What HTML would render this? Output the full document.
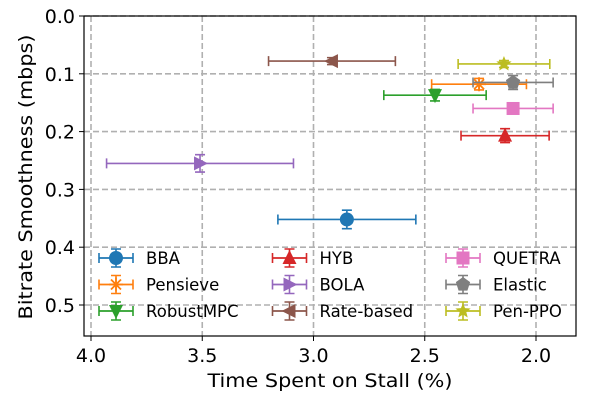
<!DOCTYPE html>
<html><head><meta charset="utf-8"><style>
body{margin:0;background:#fff;}
svg{display:block;font-family:"DejaVu Sans","Liberation Sans",sans-serif;}
</style></head><body>
<svg id="chart" width="600" height="400" viewBox="0 0 600 400" xmlns="http://www.w3.org/2000/svg">
<g id="grid"></g>
<g id="series"></g>
<rect x="84" y="16" width="492" height="320" fill="none" stroke="#000" stroke-width="1.2"/>
<g id="ticks"></g>
<text x="330" y="387" font-size="19" text-anchor="middle" textLength="245" lengthAdjust="spacingAndGlyphs">Time Spent on Stall (%)</text>
<text transform="translate(32,177) rotate(-90)" font-size="19" text-anchor="middle" textLength="285" lengthAdjust="spacingAndGlyphs">Bitrate Smoothness (mbps)</text>
<g id="legend"></g>
</svg>
<script>
const names = ["BBA","Pensieve","RobustMPC","HYB","BOLA","Rate-based","QUETRA","Elastic","Pen-PPO"];
const colors = ["#1f77b4","#ff7f0e","#2ca02c","#d62728","#9467bd","#8c564b","#e377c2","#7f7f7f","#bcbd22"];
const markers = ["circle","asterisk","tri-down","tri-up","tri-right","tri-left","square","pentagon","star"];
const stallValues = [2.85,2.256,2.454,2.139,3.51,2.917,2.103,2.103,2.144];
const stallErr = [0.31,0.213,0.23,0.198,0.42,0.285,0.18,0.18,0.206];
const smoothValues = [0.352,0.118,0.137,0.207,0.255,0.078,0.160,0.115,0.083];
const smoothErr = [0.016,0.01,0.01,0.012,0.015,0.006,0.006,0.012,0.006];
const xTicks = [4.0,3.5,3.0,2.5,2.0];
const yTicks = [0.0,0.1,0.2,0.3,0.4,0.5];

const NS="http://www.w3.org/2000/svg";
const X = v => 91 + (4.0 - v) * 222.5;
const Y = v => 16 + v * 578;
function mk(tag, attrs, parent){const e=document.createElementNS(NS,tag);for(const k in attrs)e.setAttribute(k,attrs[k]);parent.appendChild(e);return e;}
const grid=document.getElementById('grid'), ticks=document.getElementById('ticks'), series=document.getElementById('series'), legend=document.getElementById('legend');

xTicks.forEach(t=>{
  const gl=mk('line',{x1:X(t),x2:X(t),y1:16,y2:336,stroke:'#b0b0b0','stroke-width':1.6,'stroke-dasharray':'6,3'},grid);
  
  
  mk('line',{x1:X(t),x2:X(t),y1:336,y2:341,stroke:'#000'},ticks);
  const tx=mk('text',{x:X(t),y:362,'font-size':19,'text-anchor':'middle'},ticks);
  tx.textContent=t.toFixed(1);
  
  
});
yTicks.forEach(t=>{
  const gl=mk('line',{x1:84,x2:576,y1:Y(t),y2:Y(t),stroke:'#b0b0b0','stroke-width':1.6,'stroke-dasharray':'6,3'},grid);
  
  
  mk('line',{x1:79,x2:84,y1:Y(t),y2:Y(t),stroke:'#000'},ticks);
  const tx=mk('text',{x:75,y:Y(t)+7,'font-size':19,'text-anchor':'end'},ticks);
  tx.textContent=t.toFixed(1);
  
  
});

function marker(type,cx,cy,c,parent){
  const r=7;let e;
  if(type==='circle') e=mk('circle',{cx,cy,r,fill:c},parent);
  else if(type==='square') e=mk('rect',{x:cx-6.5,y:cy-6.5,width:13,height:13,fill:c},parent);
  else if(type==='asterisk'){e=mk('path',{d:`M${cx-7},${cy}H${cx+7}M${cx},${cy-7}V${cy+7}M${cx-5},${cy-5}L${cx+5},${cy+5}M${cx-5},${cy+5}L${cx+5},${cy-5}`,stroke:c,'stroke-width':1.8,fill:'none'},parent);}
  else {
    let p;
    if(type==='tri-up') p=[[0,-8],[7,6],[-7,6]];
    else if(type==='tri-down') p=[[0,8],[7,-6],[-7,-6]];
    else if(type==='tri-right') p=[[8,0],[-6,7],[-6,-7]];
    else if(type==='tri-left') p=[[-8,0],[6,7],[6,-7]];
    else if(type==='pentagon'){p=[];for(let i=0;i<5;i++){const a=-Math.PI/2+i*2*Math.PI/5;p.push([7.5*Math.cos(a),7.5*Math.sin(a)]);}}
    else {p=[];for(let i=0;i<10;i++){const a=-Math.PI/2+i*Math.PI/5;const rr=i%2?3.5:8;p.push([rr*Math.cos(a),rr*Math.sin(a)]);}}
    e=mk('polygon',{points:p.map(q=>(cx+q[0])+','+(cy+q[1])).join(' '),fill:c},parent);
  }
  return e;
}
function errbar(cx,cy,x1,x2,y1,y2,c,parent){
  mk('path',{d:`M${x1},${cy}H${x2}M${x1},${cy-5}V${cy+5}M${x2},${cy-5}V${cy+5}M${cx},${y1}V${y2}M${cx-5},${y1}H${cx+5}M${cx-5},${y2}H${cx+5}`,stroke:c,'stroke-width':1.6,fill:'none'},parent);
}

names.forEach((n,i)=>{
  const g=mk('g',{},series);
  
  
  const cx=X(stallValues[i]), cy=Y(smoothValues[i]);
  errbar(cx,cy,X(stallValues[i]+stallErr[i]),X(stallValues[i]-stallErr[i]),Y(smoothValues[i]-smoothErr[i]),Y(smoothValues[i]+smoothErr[i]),colors[i],g);
  const m=marker(markers[i],cx,cy,colors[i],g);
  
  

  const col=Math.floor(i/3), row=i%3;
  const lx=116+col*173.5, ly=258+row*26.5;
  const le=mk('g',{},legend);
  
  
  errbar(lx,ly,lx-17,lx+17,ly-9,ly+9,colors[i],le);
  mk('line',{x1:lx-17,x2:lx+17,y1:ly,y2:ly,stroke:colors[i],'stroke-width':1.6},le);
  marker(markers[i],lx,ly,colors[i],le);
  const t=mk('text',{x:lx+30,y:ly+6,'font-size':16.5},le);
  t.textContent=n;
});
</script>
</body></html>
